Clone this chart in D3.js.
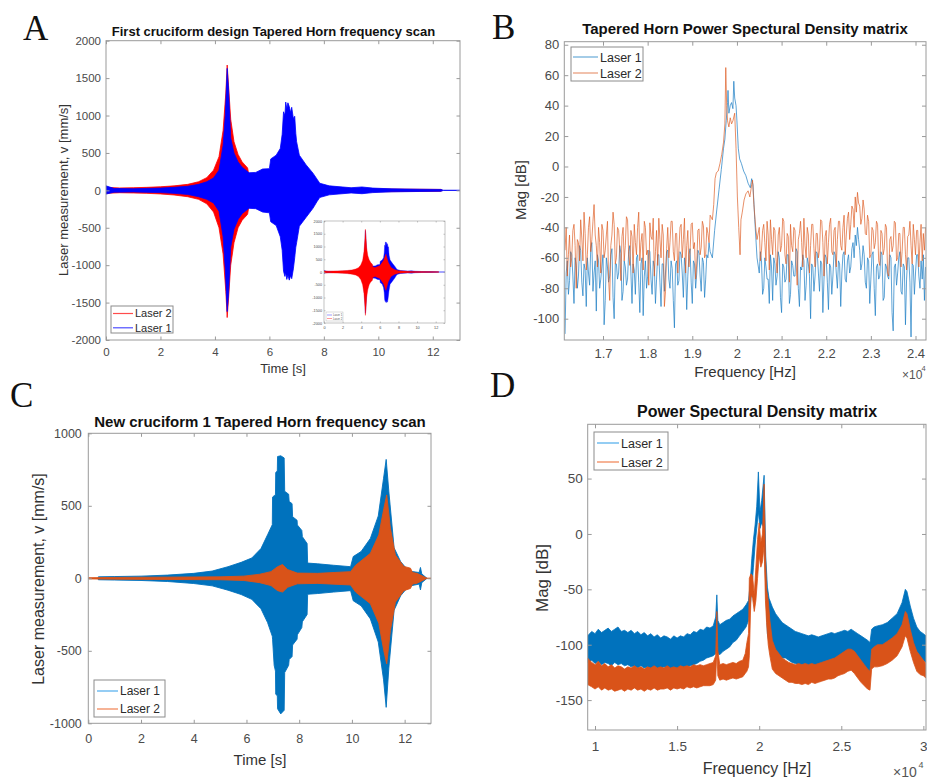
<!DOCTYPE html>
<html>
<head>
<meta charset="utf-8">
<script src="https://cdn.jsdelivr.net/npm/d3@7"></script>
<style>
  body { margin: 0; background: #fff; }
  svg { display: block; font-family: "Liberation Sans", Arial, sans-serif; }
</style>
</head>
<body>
<svg width="927" height="780"></svg>
<script>
// ---------- DATA ----------
// panel A: envelope of the time signal [t (s), upper (mm/s), lower (mm/s)]
const aLaser2 = [
  [0, 40, -40], [0.5, 32, -32], [1, 35, -35], [1.5, 40, -40], [2, 48, -48], [2.5, 60, -62],
  [3, 80, -85], [3.4, 115, -120], [3.7, 170, -180], [3.95, 270, -290], [4.15, 450, -500],
  [4.3, 800, -850], [4.4, 1300, -1350], [4.45, 1675, -1700], [4.5, 1400, -1450],
  [4.58, 950, -1000], [4.7, 650, -700], [4.85, 480, -500], [5.0, 380, -400], [5.1, 340, -360],
  [5.2, 300, -320], [5.25, 200, -210], [5.5, 180, -180], [6.0, 250, -250], [6.4, 450, -460],
  [6.65, 700, -720], [6.9, 380, -380], [7.2, 180, -180], [7.6, 90, -90], [8, 45, -45],
  [9, 25, -25], [10, 18, -18], [12.3, 12, -12], [12.35, 0, 0]
];
const aLaser1 = [
  [0, 60, -50], [0.3, 25, -25], [1, 22, -22], [2, 30, -30], [2.5, 40, -40], [3, 55, -55],
  [3.4, 80, -85], [3.7, 115, -120], [3.95, 165, -170], [4.15, 270, -280], [4.3, 600, -620],
  [4.38, 1000, -1050], [4.45, 1630, -1620], [4.5, 1350, -1380], [4.58, 700, -760],
  [4.7, 500, -520], [4.85, 380, -390], [5.0, 310, -310], [5.25, 235, -240], [5.5, 240, -245],
  [5.75, 285, -290], [6.0, 290, -300], [6.05, 420, -420], [6.25, 470, -470], [6.4, 560, -620],
  [6.47, 750, -800], [6.52, 1050, -1080], [6.57, 1000, -1150], [6.6, 1180, -1100],
  [6.64, 1090, -1190], [6.68, 1170, -1130], [6.73, 1120, -1200], [6.78, 1040, -1140],
  [6.82, 1110, -1180], [6.88, 960, -1050], [6.93, 990, -900], [6.97, 760, -760],
  [7.0, 650, -700], [7.1, 470, -480], [7.35, 340, -360], [7.6, 230, -240],
  [7.75, 150, -150], [7.85, 95, -95], [8.2, 60, -60], [9, 35, -35], [9.4, 45, -45],
  [9.8, 30, -30], [10.5, 20, -20], [11.5, 15, -15], [12.3, 12, -12], [12.4, 0, 0], [13, 0, 0]
];
const aYTicks = [-2000, -1500, -1000, -500, 0, 500, 1000, 1500, 2000];
const aXTicks = [0, 2, 4, 6, 8, 10, 12];

// panel C: envelope [t (s), upper, lower]
const cLaser1 = [
  [0.38, 10, -10], [1, 12, -12], [2, 15, -15], [3, 22, -22], [4, 34, -36], [4.7, 50, -52],
  [5.3, 80, -82], [5.8, 110, -112], [6.2, 140, -145], [6.55, 205, -210], [6.8, 300, -305],
  [6.98, 370, -400], [6.99, 560, -420], [7.05, 570, -600], [7.1, 575, -640], [7.11, 730, -800],
  [7.17, 740, -810], [7.18, 840, -900], [7.3, 845, -935], [7.43, 830, -910], [7.45, 600, -650],
  [7.6, 580, -600], [7.62, 530, -560], [7.73, 515, -540], [7.75, 425, -460], [7.92, 400, -420],
  [7.93, 368, -390], [8.1, 330, -340], [8.12, 287, -300], [8.3, 240, -250], [8.32, 105, -110],
  [8.7, 100, -105], [9.3, 90, -95], [9.95, 80, -85], [10.05, 150, -155], [10.35, 185, -190],
  [10.7, 275, -280], [11.0, 430, -440], [11.2, 690, -700], [11.3, 820, -890], [11.4, 600, -620],
  [11.6, 210, -220], [11.85, 115, -120], [12.15, 50, -55], [12.55, 40, -40], [12.6, 75, -80],
  [12.65, 30, -30], [12.85, 0, 0]
];
const cLaser2 = [
  [0, 4, -4], [1, 6, -6], [3, 8, -8], [5, 10, -10], [5.9, 15, -15], [6.5, 28, -30],
  [6.93, 46, -50], [7.18, 80, -85], [7.37, 95, -95], [7.56, 60, -62], [7.93, 36, -38],
  [8.7, 34, -35], [9.95, 46, -46], [10.14, 90, -95], [10.7, 172, -175], [11.02, 300, -310],
  [11.21, 480, -500], [11.32, 575, -590], [11.46, 345, -360], [11.65, 160, -165],
  [11.97, 82, -85], [12.22, 70, -70], [12.3, 40, -40], [12.47, 34, -34], [12.85, 0, 0], [13, 0, 0]
];
const cYTicks = [-1000, -500, 0, 500, 1000];
const cXTicks = [0, 2, 4, 6, 8, 10, 12];

// panel B: PSD in dB, noise floor sampled every 25 Hz, resonance as [Hz, dB]
const bStep = 25;
const bLeftStart = 16150;
const bRightStart = 20500;
const bL1Left = [
  -110, -70, -62, -84, -75, -56, -58, -72, -90, -60, -65, -80, -72, -52, -55, -76, -85, -64, -68, -92,
  -60, -70, -78, -54, -50, -82, -70, -62, -95, -58, -62, -80, -74, -66, -58, -104, -88, -60, -66, -76,
  -72, -58, -54, -86, -100, -64, -64, -74, -70, -52, -57, -88, -82, -62, -66, -78, -74, -56, -52, -70,
  -90, -64, -68, -84, -60, -58, -76, -96, -64, -60, -98, -72, -62, -80, -72, -55, -56, -74, -84, -62,
  -66, -90, -74, -58, -58, -76, -92, -64, -64, -82, -70, -56, -55, -74, -80, -62, -67, -88, -106, -64,
  -62, -78, -75, -56, -58, -70, -86, -60, -66, -94, -72, -58, -54, -76, -90, -62, -64, -80, -70, -55,
  -57, -72, -82, -60, -63, -86, -74, -58, -60, -50, -56
];
const bL1Peak = [
  [19450, -60], [19500, -42], [19550, -28], [19600, -15], [19650, -2], [19700, 12], [19730, 18],
  [19760, 30], [19790, 42], [19800, 50], [19820, 35], [19850, 40], [19880, 42], [19910, 38],
  [19930, 56], [19950, 45], [19980, 40], [20000, 30], [20030, 12], [20060, 5], [20100, 2],
  [20150, -3], [20200, -6], [20250, -11], [20300, -14], [20330, -8], [20360, -12],
  [20400, -35], [20450, -60]
];
const bL1Right = [
  -70, -56, -62, -84, -80, -60, -66, -74, -74, -90, -58, -66, -88, -60, -64, -78, -72, -56, -60, -86,
  -96, -64, -66, -76, -74, -58, -58, -90, -84, -62, -65, -72, -72, -54, -56, -80, -92, -66, -68, -58,
  -62, -88, -78, -60, -64, -72, -100, -64, -66, -82, -72, -56, -57, -70, -82, -62, -64, -96, -74, -58,
  -60, -76, -94, -64, -66, -84, -72, -56, -58, -70, -80, -62, -64, -92, -70, -58, -56, -74, -76, -62,
  -58, -70, -66, -54, -50, -60, -45, -52, -40, -48, -55, -68, -64, -52, -58, -76, -80, -60, -62, -90,
  -74, -58, -56, -80, -98, -66, -64, -74, -72, -56, -58, -88, -86, -64, -66, -72, -74, -58, -60, -96,
  -108, -66, -64, -78, -70, -60, -56, -82, -84, -64, -66, -104, -74, -60, -60, -76, -112, -64, -65, -84,
  -70, -58, -58, -72, -80, -62, -74, -58, -88, -66
];
const bL2Left = [
  -55, -40, -72, -58, -45, -66, -60, -42, -38, -52, -80, -48, -50, -62, -35, -47, -62, -30, -44, -68,
  -58, -40, -33, -56, -48, -36, -25, -45, -52, -66, -40, -50, -70, -38, -42, -60, -55, -45, -36, -74,
  -88, -52, -45, -30, -38, -64, -60, -40, -42, -55, -75, -46, -40, -62, -52, -33, -35, -58, -65, -42,
  -46, -70, -38, -50, -58, -40, -30, -62, -50, -44, -68, -36, -40, -58, -55, -78, -37, -46, -48, -34,
  -72, -56, -42, -65, -34, -48, -60, -38, -45, -92, -82, -54, -40, -60, -50, -36, -36, -56, -62, -44,
  -44, -70, -55, -40, -38, -60, -48, -34, -70, -52, -42, -66, -56, -38, -37, -54, -50, -74, -64, -42,
  -41, -58, -53, -36, -39, -60, -58, -40, -44, -50, -32
];
const bL2Peak = [
  [19450, -35], [19480, -25], [19510, -8], [19540, -4], [19580, -3], [19620, 2], [19660, 8],
  [19700, 16], [19730, 28], [19750, 65], [19770, 40], [19790, 30], [19820, 26], [19850, 32],
  [19880, 28], [19910, 30], [19950, 35], [19980, 12], [20010, -20], [20040, -40], [20070, -58],
  [20090, -35], [20120, -30], [20160, -22], [20200, -18], [20250, -16], [20290, -20],
  [20330, -12], [20350, -9], [20380, -25], [20420, -40], [20450, -48]
];
const bL2Right = [
  -40, -62, -55, -42, -38, -50, -62, -36, -45, -68, -35, -48, -58, -40, -42, -60, -70, -45, -40, -56,
  -52, -34, -36, -58, -64, -44, -46, -76, -38, -52, -56, -40, -42, -62, -78, -48, -44, -36, -50, -66,
  -34, -52, -60, -40, -45, -70, -52, -38, -38, -54, -66, -44, -44, -60, -55, -35, -36, -50, -72, -46,
  -42, -64, -50, -38, -34, -56, -58, -42, -40, -66, -48, -36, -36, -52, -55, -40, -32, -58, -45, -34,
  -30, -48, -38, -26, -28, -40, -20, -30, -17, -24, -26, -38, -34, -22, -28, -44, -45, -32, -36, -60,
  -58, -40, -42, -54, -50, -36, -38, -62, -65, -42, -44, -58, -54, -38, -40, -70, -72, -48, -46, -56,
  -52, -36, -37, -62, -60, -44, -44, -66, -56, -40, -40, -58, -68, -46, -45, -36, -52, -64, -38, -48,
  -58, -42, -42, -66, -50, -38, -62, -44, -55, -40
];
const bYTicks = [-100, -80, -60, -40, -20, 0, 20, 40, 60, 80];
const bXTicks = [17000, 18000, 19000, 20000, 21000, 22000, 23000, 24000];

// panel D: PSD band [Hz, upper dB, lower dB]
const dLaser1 = [
  [9550, -92, -116], [9800, -88, -114], [10000, -90, -117], [10200, -86, -115], [10400, -89, -118],
  [10600, -87, -116], [10800, -85, -117], [11000, -88, -119], [11200, -86, -116], [11400, -84, -118],
  [11600, -88, -117], [11800, -87, -119], [12000, -89, -118], [12200, -87, -120], [12400, -90, -119],
  [12600, -88, -121], [12800, -91, -119], [13000, -89, -121], [13200, -92, -120], [13400, -90, -122],
  [13600, -93, -120], [13800, -91, -121], [14000, -94, -122], [14200, -92, -120], [14400, -93, -121],
  [14600, -95, -122], [14800, -92, -121], [15000, -94, -122], [15200, -92, -121], [15400, -93, -121],
  [15600, -90, -120], [15800, -91, -119], [16000, -88, -118], [16200, -89, -117], [16400, -86, -115],
  [16600, -87, -114], [16800, -84, -112], [17000, -85, -111], [17200, -83, -110], [17350, -75, -108],
  [17420, -55, -100], [17480, -78, -108], [17600, -82, -109], [17800, -80, -106], [18000, -78, -104],
  [18200, -77, -102], [18400, -74, -98], [18600, -72, -96], [18800, -70, -92], [19000, -68, -88],
  [19200, -64, -84], [19350, -60, -78], [19450, -45, -66], [19550, -22, -50], [19650, -5, -30],
  [19750, 8, -10], [19850, 25, 5], [19950, 56, 20], [20050, 20, 5], [20150, 30, 10], [20300, 53, 5],
  [20400, -20, -50], [20500, -48, -90], [20600, -58, -98], [20800, -66, -102], [21000, -72, -108],
  [21200, -76, -110], [21400, -80, -112], [21600, -82, -112], [21800, -84, -114], [22000, -86, -116],
  [22200, -88, -117], [22400, -89, -118], [22600, -90, -118], [22800, -91, -118], [23000, -92, -119],
  [23200, -91, -118], [23400, -92, -119], [23600, -93, -118], [23800, -92, -117], [24000, -91, -117],
  [24200, -90, -116], [24400, -89, -116], [24600, -90, -115], [24800, -89, -115], [25000, -88, -114],
  [25200, -87, -113], [25400, -88, -113], [25600, -86, -112], [25800, -88, -114], [26000, -90, -116],
  [26200, -92, -118], [26400, -94, -121], [26600, -96, -124], [26750, -98, -125], [26850, -86, -108],
  [27000, -84, -105], [27200, -83, -104], [27500, -82, -103], [27800, -80, -100], [28100, -76, -97],
  [28400, -72, -94], [28700, -62, -86], [28900, -50, -78], [29000, -52, -76], [29200, -65, -90],
  [29400, -76, -100], [29600, -84, -108], [29800, -88, -112], [30000, -90, -114], [30150, -92, -116]
];
const dLaser2 = [
  [9550, -112, -136], [9800, -116, -138], [10000, -118, -140], [10200, -115, -138], [10400, -119, -141],
  [10600, -117, -139], [10800, -120, -141], [11000, -118, -140], [11200, -121, -142], [11400, -119, -141],
  [11600, -120, -140], [11800, -122, -142], [12000, -120, -140], [12200, -121, -141], [12400, -119, -139],
  [12600, -121, -141], [12800, -120, -140], [13000, -122, -142], [13200, -120, -140], [13400, -121, -141],
  [13600, -119, -139], [13800, -121, -141], [14000, -120, -140], [14200, -121, -140], [14400, -119, -139],
  [14600, -121, -141], [14800, -120, -139], [15000, -121, -140], [15200, -119, -139], [15400, -120, -140],
  [15600, -119, -138], [15800, -120, -139], [16000, -118, -138], [16200, -119, -139], [16400, -118, -138],
  [16600, -119, -137], [16800, -118, -137], [17000, -117, -137], [17200, -116, -136], [17350, -110, -132],
  [17420, -70, -105], [17480, -105, -128], [17600, -118, -132], [17800, -117, -131], [18000, -118, -132],
  [18200, -117, -131], [18400, -116, -130], [18600, -117, -131], [18800, -115, -130], [19000, -114, -129],
  [19150, -108, -126], [19250, -98, -124], [19350, -90, -120], [19400, -40, -110], [19500, -36, -55],
  [19600, -38, -58], [19700, -55, -70], [19800, -30, -60], [19900, -5, -40], [20000, 10, -20],
  [20100, -8, -30], [20200, 0, -25], [20300, 45, -10], [20380, -20, -60], [20450, -50, -80],
  [20550, -60, -100], [20650, -78, -110], [20800, -96, -122], [21000, -104, -126], [21200, -108, -128],
  [21400, -112, -130], [21600, -114, -132], [21800, -116, -134], [22000, -117, -134], [22200, -118, -135],
  [22400, -117, -135], [22600, -118, -136], [22800, -117, -135], [23000, -118, -136], [23200, -117, -134],
  [23400, -118, -135], [23600, -117, -134], [23800, -116, -133], [24000, -115, -132], [24200, -114, -131],
  [24400, -113, -131], [24600, -112, -130], [24800, -110, -128], [25000, -108, -127], [25200, -106, -126],
  [25400, -104, -124], [25600, -104, -123], [25800, -106, -126], [26000, -110, -130], [26200, -114, -134],
  [26400, -118, -137], [26600, -122, -140], [26750, -124, -141], [26850, -104, -122], [27000, -102, -120],
  [27200, -100, -120], [27500, -100, -119], [27800, -97, -117], [28100, -94, -114], [28400, -90, -110],
  [28700, -82, -102], [28900, -70, -92], [29000, -72, -94], [29200, -86, -106], [29400, -98, -116],
  [29600, -106, -124], [29800, -110, -127], [30000, -114, -128], [30150, -117, -130]
];
const dYTicks = [-150, -100, -50, 0, 50];
const dXTicks = [10000, 15000, 20000, 25000, 30000];

// ---------- DRAWING ----------
const svg = d3.select('svg');
const AXIS = '#9a9a9a';

function frame(c) {
  const x = d3.scaleLinear().domain(c.xDomain).range([c.left, c.right]);
  const y = d3.scaleLinear().domain(c.yDomain).range([c.bottom, c.top]);
  const g = svg.append('g');
  if (c.bg) {
    g.append('rect').attr('x', c.bg[0]).attr('y', c.bg[1]).attr('width', c.bg[2]).attr('height', c.bg[3])
      .attr('fill', '#fff');
  }
  svg.append('clipPath').attr('id', c.id).append('rect')
    .attr('x', c.left).attr('y', c.top)
    .attr('width', c.right - c.left).attr('height', c.bottom - c.top);
  const plot = g.append('g').attr('clip-path', `url(#${c.id})`);
  return { g, plot, x, y, c };
}

function axes(f) {
  const { g, x, y, c } = f;
  const tl = c.tick;
  const put = (axis, tr) => g.append('g').attr('transform', tr).call(axis)
    .attr('font-family', null).attr('font-size', c.fs)
    .call(s => s.select('.domain').remove())
    .call(s => s.selectAll('line').attr('stroke', AXIS).attr('stroke-width', c.tw || 1))
    .call(s => s.selectAll('text').attr('fill', '#4a4a4a'));
  put(d3.axisBottom(x).tickValues(c.xTicks).tickFormat(c.xFmt).tickSize(-tl).tickPadding(c.xPad), `translate(0,${c.bottom})`);
  put(d3.axisTop(x).tickValues(c.xTicks).tickFormat('').tickSize(-tl), `translate(0,${c.top})`);
  put(d3.axisLeft(y).tickValues(c.yTicks).tickFormat(c.yFmt).tickSize(-tl).tickPadding(c.yPad), `translate(${c.left},0)`);
  put(d3.axisRight(y).tickValues(c.yTicks).tickFormat('').tickSize(-tl), `translate(${c.right},0)`);
  g.append('rect')
    .attr('x', c.left).attr('y', c.top)
    .attr('width', c.right - c.left).attr('height', c.bottom - c.top)
    .attr('fill', 'none').attr('stroke', AXIS).attr('stroke-width', c.tw || 1);
}

function envelope(f, data, color, sw) {
  f.plot.append('path')
    .datum(data)
    .attr('d', d3.area().x(d => f.x(d[0])).y0(d => f.y(d[2])).y1(d => f.y(d[1])))
    .attr('fill', color)
    .attr('stroke', color)
    .attr('stroke-width', sw)
    .attr('stroke-linejoin', 'round');
}

function label(text, x, y, size, opts = {}) {
  const t = svg.append('text').attr('x', x).attr('y', y)
    .attr('font-size', size).attr('fill', opts.fill || '#333')
    .attr('text-anchor', opts.anchor || 'middle')
    .attr('font-weight', opts.bold ? 'bold' : null)
    .text(text);
  if (opts.rotate) t.attr('transform', `rotate(-90,${x},${y})`);
  if (opts.family) t.attr('font-family', opts.family);
  return t;
}

function legend(box, rows, fs, lineFrom, lineTo, textX) {
  svg.append('rect').attr('x', box[0]).attr('y', box[1]).attr('width', box[2]).attr('height', box[3])
    .attr('fill', '#fff').attr('stroke', '#8c8c8c').attr('stroke-width', 1);
  rows.forEach(r => {
    svg.append('line').attr('x1', lineFrom).attr('x2', lineTo).attr('y1', r.y).attr('y2', r.y)
      .attr('stroke', r.color).attr('stroke-width', 1.2).attr('stroke-opacity', r.op || 1);
    svg.append('text').attr('x', textX).attr('y', r.y + fs * 0.36).attr('font-size', fs)
      .attr('fill', '#2a2a2a').text(r.name);
  });
}

const fmtPlain = d => String(d);
const fmt1e4 = d => String(+(d / 1e4).toFixed(1));

// ---- Panel A ----
const fa = frame({
  id: 'clipA', left: 106, right: 460, top: 40.7, bottom: 340,
  xDomain: [0, 13], yDomain: [-2000, 2000],
  xTicks: aXTicks, yTicks: aYTicks, xFmt: fmtPlain, yFmt: fmtPlain,
  fs: 11.5, tick: 3.5, xPad: 8, yPad: 5
});
envelope(fa, aLaser2, '#ff0000', 0.8);
envelope(fa, aLaser1, '#0000ff', 0.8);
axes(fa);

// inset of panel A
const fi = frame({
  id: 'clipI', left: 324, right: 445, top: 221, bottom: 323,
  bg: [310, 217, 138, 117],
  xDomain: [0, 13], yDomain: [-2000, 2000],
  xTicks: aXTicks, yTicks: aYTicks, xFmt: fmtPlain, yFmt: fmtPlain,
  fs: 3.8, tick: 1.5, xPad: 3, yPad: 2, tw: 0.6
});
envelope(fi, aLaser1, '#0000ff', 0.4);
envelope(fi, aLaser2, '#ff0000', 0.4);
axes(fi);
svg.append('rect').attr('x', 326).attr('y', 312).attr('width', 17).attr('height', 9)
  .attr('fill', '#fff').attr('stroke', '#aaa').attr('stroke-width', 0.4);
[['Laser 1', '#0000ff', 315], ['Laser 2', '#ff0000', 318.5]].forEach(([n, col, yy]) => {
  svg.append('line').attr('x1', 327).attr('x2', 332).attr('y1', yy).attr('y2', yy)
    .attr('stroke', col).attr('stroke-width', 0.4);
  svg.append('text').attr('x', 333).attr('y', yy + 1).attr('font-size', 2.8).attr('fill', '#555').text(n);
});

legend([111, 306, 62, 27], [
  { name: 'Laser 2', color: '#ff0000', y: 313.5, op: 0.7 },
  { name: 'Laser 1', color: '#0000ff', y: 327.8, op: 0.7 }
], 11, 113, 133, 135);

label('First cruciform design Tapered Horn frequency scan', 273.5, 35.5, 13, { bold: true, fill: '#111' });
label('Time [s]', 283, 372.5, 13);
label('Laser measurement, v [mm/s]', 67.5, 190, 13, { rotate: true });

// ---- Panel B ----
const fb = frame({
  id: 'clipB', left: 564.3, right: 926, top: 41.7, bottom: 340,
  xDomain: [16133, 24235], yDomain: [-114, 82],
  xTicks: bXTicks, yTicks: bYTicks, xFmt: fmt1e4, yFmt: fmtPlain,
  fs: 13, tick: 4, xPad: 8.5, yPad: 5
});
function spectrum(left, peak, right) {
  return left.map((v, i) => [bLeftStart + i * bStep, v])
    .concat(peak, right.map((v, i) => [bRightStart + i * bStep, v]));
}
const bLine = d3.line().x(d => fb.x(d[0])).y(d => fb.y(d[1]));
fb.plot.append('path').datum(spectrum(bL1Left, bL1Peak, bL1Right)).attr('d', bLine)
  .attr('fill', 'none').attr('stroke', '#1f7fc4').attr('stroke-width', 0.8).attr('stroke-opacity', 0.9);
fb.plot.append('path').datum(spectrum(bL2Left, bL2Peak, bL2Right)).attr('d', bLine)
  .attr('fill', 'none').attr('stroke', '#dd5a20').attr('stroke-width', 0.8).attr('stroke-opacity', 0.85);
axes(fb);
legend([571, 47, 72, 34], [
  { name: 'Laser 1', color: '#0072bd', y: 57, op: 0.6 },
  { name: 'Laser 2', color: '#d95319', y: 73, op: 0.6 }
], 12.5, 573, 598, 600);
label('Tapered Horn Power Spectural Density matrix', 745, 34, 15, { bold: true, fill: '#111' });
label('Frequency [Hz]', 745, 377, 15);
label('Mag [dB]', 526, 190, 15, { rotate: true });
label('\u00d710', 902, 379, 12, { anchor: 'start', fill: '#555' });
label('4', 921.5, 371, 7.5, { anchor: 'start', fill: '#555' });

// ---- Panel C ----
const fc = frame({
  id: 'clipC', left: 88.3, right: 431, top: 433.3, bottom: 723.3,
  xDomain: [0, 13], yDomain: [-1000, 1000],
  xTicks: cXTicks, yTicks: cYTicks, xFmt: fmtPlain, yFmt: fmtPlain,
  fs: 12.5, tick: 3.5, xPad: 11, yPad: 6.5
});
envelope(fc, cLaser1, '#0072bd', 0.9);
envelope(fc, cLaser2, '#d95319', 0.9);
axes(fc);
legend([94, 680, 71, 37], [
  { name: 'Laser 1', color: '#4dacec', y: 691 },
  { name: 'Laser 2', color: '#f08050', y: 709 }
], 12, 97, 118, 120);
label('New cruciform 1 Tapered Horn frequency scan', 260, 426.5, 15, { bold: true, fill: '#111' });
label('Time [s]', 260, 765, 15);
label('Laser measurement, v [mm/s]', 43.5, 579, 16, { rotate: true });

// ---- Panel D ----
const fd = frame({
  id: 'clipD', left: 587.7, right: 926, top: 424.3, bottom: 730,
  xDomain: [9555, 30160], yDomain: [-177, 99],
  xTicks: dXTicks, yTicks: dYTicks, xFmt: fmt1e4, yFmt: fmtPlain,
  fs: 13.5, tick: 4, xPad: 11, yPad: 5
});
envelope(fd, dLaser1, '#0072bd', 0.8);
envelope(fd, dLaser2, '#d95319', 0.8);
axes(fd);
legend([594, 432, 74, 38], [
  { name: 'Laser 1', color: '#4dacec', y: 443 },
  { name: 'Laser 2', color: '#f08050', y: 462 }
], 12.5, 597, 619, 621);
label('Power Spectural Density matrix', 757, 416.5, 16, { bold: true, fill: '#111' });
label('Frequency [Hz]', 757, 773.5, 16);
label('Mag [dB]', 548, 578, 17, { rotate: true });
label('\u00d710', 893, 777, 14, { anchor: 'start', fill: '#555' });
label('4', 918.5, 768, 9, { anchor: 'start', fill: '#555' });

// ---- panel letters ----
[['A', 23, 40], ['B', 492, 39], ['C', 10, 407], ['D', 490, 397]].forEach(([t, x, y]) => {
  label(t, x, y, 35, { anchor: 'start', fill: '#111', family: '"Liberation Serif", "Times New Roman", serif' });
});
</script>
</body>
</html>
